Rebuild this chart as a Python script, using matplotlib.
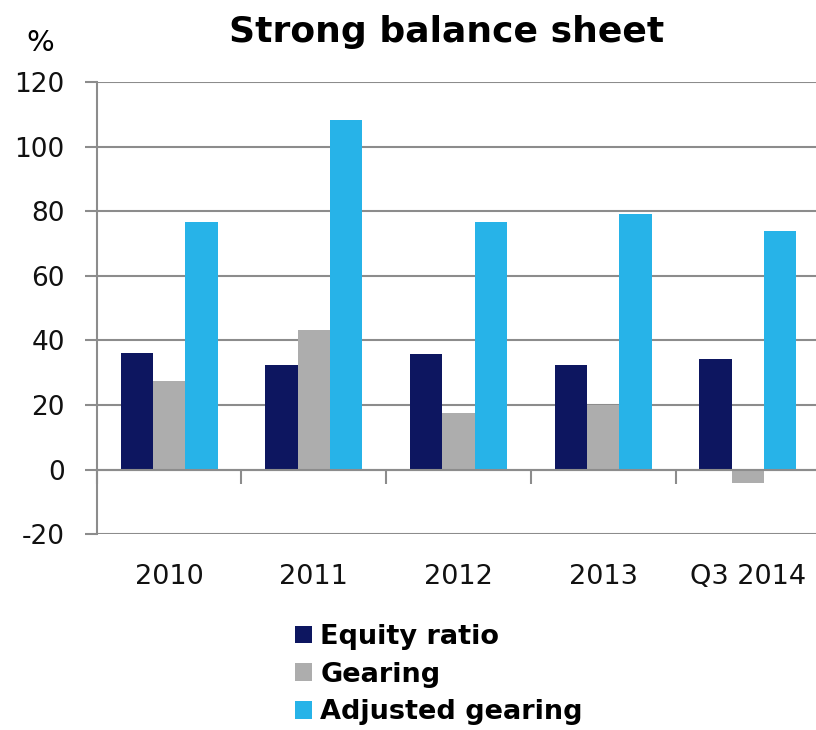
import numpy as np
import matplotlib
matplotlib.use("Agg")
import matplotlib.pyplot as plt
from matplotlib.patches import Patch

categories = ["2010", "2011", "2012", "2013", "Q3 2014"]
equity_ratio = [36.1, 32.5, 35.7, 32.5, 34.3]
gearing = [27.6, 43.1, 17.4, 20.0, -4.0]
adjusted_gearing = [76.8, 108.3, 76.8, 79.2, 74.0]

series_names = ["Equity ratio", "Gearing", "Adjusted gearing"]
colors = ["#0D1660", "#ADADAD", "#27B3E8"]
y_ticks = [-20, 0, 20, 40, 60, 80, 100, 120]

plt.rcParams["font.family"] = ["DejaVu Sans"]

fig = plt.figure(figsize=(8.16, 7.30), dpi=100)
ax = fig.add_axes([96.7 / 816, 195.7 / 730, 723.5 / 816, 452.3 / 730])

x = np.arange(len(categories))
width = 0.2235
for i, (vals, col) in enumerate(zip([equity_ratio, gearing, adjusted_gearing], colors)):
    ax.bar(x + (i - 1) * width, vals, width, color=col, zorder=3)

grid_col = "#8C8C8C"
ax.set_ylim(-20, 120)
ax.set_xlim(-0.5, len(categories) - 0.5)
ax.set_yticks(y_ticks)
ax.set_yticklabels([str(t) for t in y_ticks], fontsize=19, color="#111111")
ax.yaxis.grid(True, color=grid_col, linewidth=1.5, zorder=0)
ax.tick_params(axis="y", length=9, width=1.5, color=grid_col, pad=14)

for side in ["top", "right"]:
    ax.spines[side].set_visible(False)
ax.spines["left"].set_color(grid_col)
ax.spines["left"].set_linewidth(1.5)
ax.spines["bottom"].set_position(("data", 0))
ax.spines["bottom"].set_color(grid_col)
ax.spines["bottom"].set_linewidth(1.5)
ax.spines["bottom"].set_zorder(4)

ax.set_xticks(x)
ax.set_xticklabels(categories, fontsize=19.5, color="#111111")
ax.set_xticks(np.arange(len(categories) + 1) - 0.5, minor=True)
ax.tick_params(axis="x", which="major", length=0, pad=68)
ax.tick_params(axis="x", which="minor", length=10, width=1.5, color=grid_col, direction="out")

fig.text(447 / 816, 1 - 32 / 730, "Strong balance sheet", fontsize=26, fontweight="bold",
         ha="center", va="center")
fig.text(40 / 816, 1 - 43 / 730, "%", fontsize=21, ha="center", va="center")

handles = [Patch(facecolor=c, edgecolor="none") for c in colors]
fig.legend(handles, series_names, loc="upper left", bbox_to_anchor=(295 / 816, 1 - 624 / 730),
           frameon=False, prop={"size": 19.5, "weight": "bold"}, handlelength=0.63, handleheight=0.63,
           handletextpad=0.3, labelspacing=0.43, borderaxespad=0, borderpad=0)

fig.savefig("out.png", dpi=100)
